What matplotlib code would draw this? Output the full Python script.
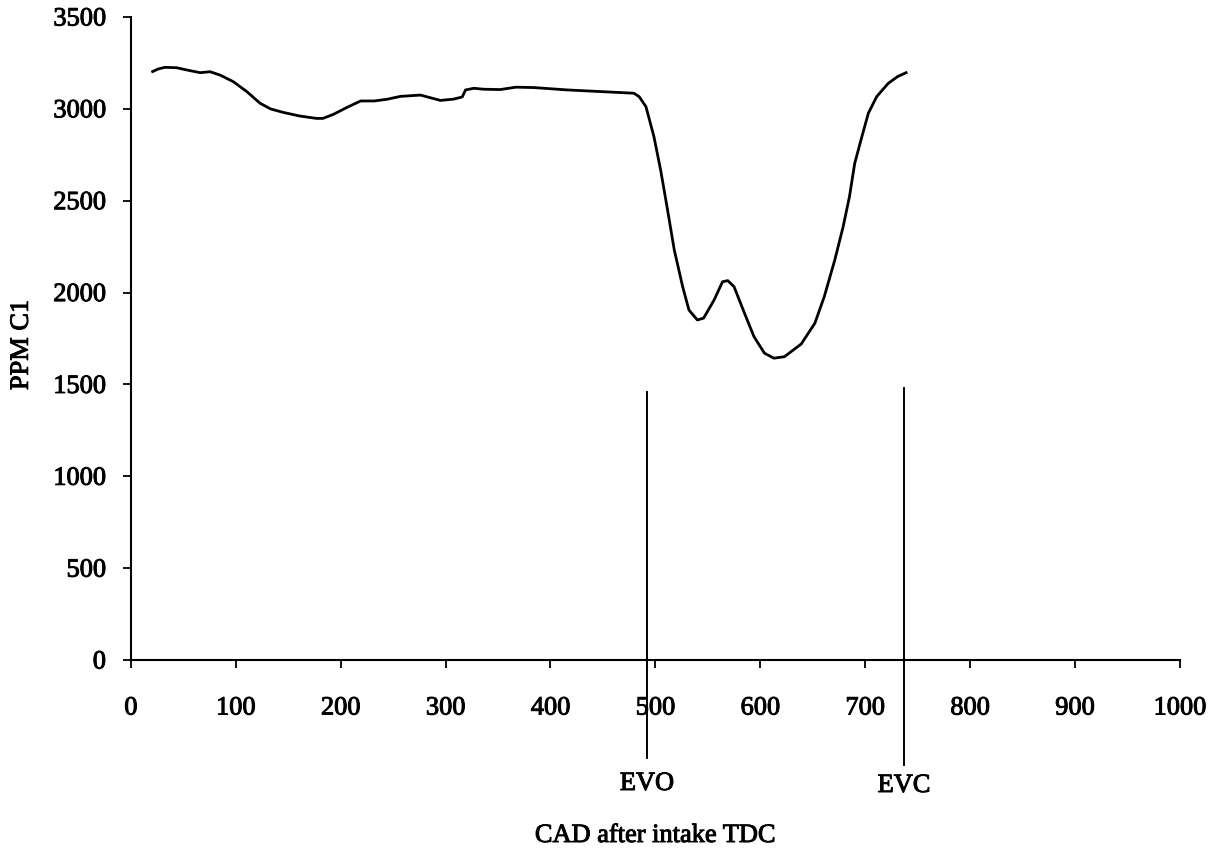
import matplotlib
matplotlib.use("Agg")
import matplotlib.pyplot as plt
import matplotlib.patheffects as pe
from matplotlib.transforms import blended_transform_factory

plt.rcParams['font.family'] = ['Liberation Serif', 'DejaVu Serif']

# Hydrocarbon concentration trace over the cycle (crank angle, ppm C1)
cad = [20.7, 26, 32.5, 43.6, 53, 66, 75.5, 85, 97.6, 110.5, 123, 133, 145,
       161, 177, 183, 193, 206, 219, 232, 244, 257, 276, 295, 307.6, 314,
       316, 319, 327, 336, 352, 367, 384, 416, 448, 479.6, 484.6, 491,
       498.6, 505, 511.6, 518, 526, 532, 540, 546, 556, 564, 569, 575,
       585, 594, 604, 613, 623, 639, 652, 661, 671, 679, 685, 690, 696,
       703, 711, 722, 731, 739]
ppm = [3203, 3217, 3226, 3224, 3212, 3197, 3202, 3184, 3148, 3094, 3031,
       3000, 2981, 2961, 2948, 2948, 2970, 3008, 3043, 3043, 3052, 3068,
       3075, 3046, 3053, 3062, 3066, 3103, 3112, 3107, 3105, 3118, 3116,
       3103, 3094, 3085, 3066, 3012, 2849, 2667, 2450, 2232, 2032, 1905,
       1851, 1861, 1960, 2059, 2065, 2032, 1887, 1760, 1670, 1643, 1651,
       1720, 1833, 1978, 2177, 2359, 2522, 2703, 2831, 2976, 3067, 3139,
       3176, 3197]

# Exhaust valve timing markers
valve_events = ["EVO", "EVC"]
valve_cad = [492, 737]
marker_top = [1458, 1480]
marker_bottom = [-533, -572]

x_ticks = [0, 100, 200, 300, 400, 500, 600, 700, 800, 900, 1000]
y_ticks = [0, 500, 1000, 1500, 2000, 2500, 3000, 3500]

FS = 19
ink = [pe.withStroke(linewidth=0.7, foreground='black')]

fig = plt.figure(figsize=(12.12, 8.5), dpi=100)
ax = fig.add_axes([0.108, 0.2235, 0.8655, 0.7565])

ax.plot(cad, ppm, color='black', lw=2.0, solid_joinstyle='round')

label_tr = blended_transform_factory(ax.transData, fig.transFigure)
for name, xv, top, bot, ypix in zip(valve_events, valve_cad, marker_top,
                                     marker_bottom, [784, 786]):
    ax.plot([xv, xv], [top, bot], color='black', lw=1.4, clip_on=False)
    ax.text(xv, 1 - ypix / 850, name, transform=label_tr, ha='center',
            va='center', fontsize=FS, clip_on=False, path_effects=ink)

ax.set_xlim(0, 1000)
ax.set_ylim(0, 3500)
ax.set_xticks(x_ticks)
ax.set_yticks(y_ticks)
ax.tick_params(axis='both', direction='out', length=6, width=1.3,
               labelsize=FS, colors='black')
ax.tick_params(axis='y', pad=12)
ax.tick_params(axis='x', pad=21)
for lab in ax.get_xticklabels() + ax.get_yticklabels():
    lab.set_path_effects(ink)

for side in ('top', 'right'):
    ax.spines[side].set_visible(False)
for side in ('left', 'bottom'):
    ax.spines[side].set_linewidth(1.5)

ax.set_ylabel('PPM C1', fontsize=FS, path_effects=ink)
ax.yaxis.set_label_coords(-0.0935, 0.49)
fig.text(0.5405, 1 - 836 / 850, 'CAD after intake TDC', ha='center',
         va='center', fontsize=FS, path_effects=ink)

fig.savefig('out.png', dpi=100, facecolor='white')
